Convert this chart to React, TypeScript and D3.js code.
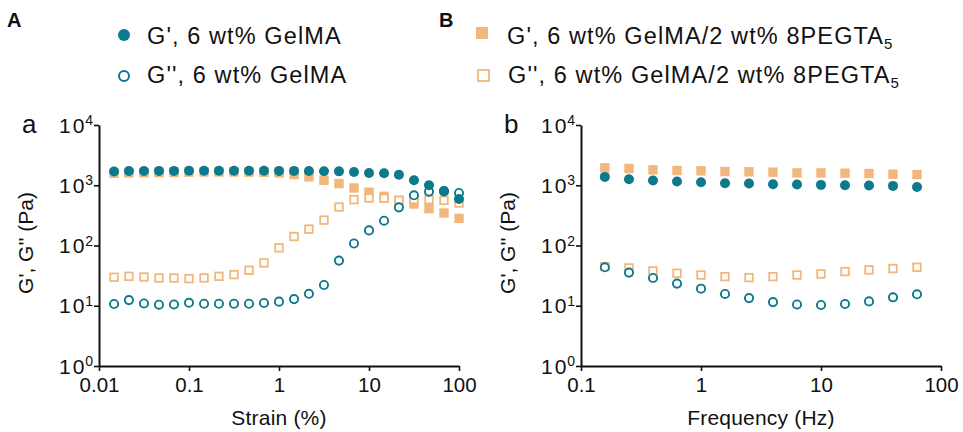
import React from "react";
import * as d3 from "d3";

const TEAL = "#0c7a8c";
const ORANGE = "#f2b77a";

// panel a: strain sweep
const strain = [0.0147, 0.0215, 0.0316, 0.0464, 0.0681, 0.1, 0.147, 0.215, 0.316, 0.464, 0.681, 1, 1.47, 2.15, 3.16, 4.64, 6.81, 10, 14.7, 21.5, 31.6, 46.4, 68.1, 100];
const aGpGel = [1690, 1720, 1720, 1730, 1730, 1740, 1740, 1740, 1740, 1740, 1740, 1730, 1730, 1720, 1710, 1700, 1660, 1600, 1580, 1490, 1210, 1000, 800, 590];
const aGppGel = [10.7, 12.4, 10.9, 10.4, 10.5, 11.2, 10.8, 10.8, 10.8, 10.8, 11.1, 11.7, 12.9, 15.8, 22.1, 56.2, 108, 178, 258, 430, 681, 784, 790, 745];
const aGpPeg = [1580, 1600, 1610, 1620, 1630, 1650, 1660, 1660, 1660, 1650, 1640, 1600, 1506, 1377, 1211, 1066, 903, 765, 656, 562, 489, 408, 346, 282];
const aGppPeg = [29.7, 30.8, 30, 28.9, 28.9, 28.2, 28.9, 30.8, 32.9, 38.8, 51.4, 91.4, 141, 187, 264, 435, 577, 615, 607, 562, 580, 577, 562, 508];

// panel b: frequency sweep
const freq = [0.158, 0.251, 0.398, 0.631, 1, 1.585, 2.512, 3.981, 6.31, 10, 15.85, 25.12, 39.81, 63.1];
const bGpGel = [1377, 1259, 1196, 1151, 1122, 1080, 1066, 1040, 1027, 1014, 1000, 988, 976, 937];
const bGppGel = [43.5, 35.5, 28.9, 23.3, 19.2, 15.7, 13.4, 11.5, 10.5, 10.3, 10.7, 11.8, 13.8, 15.5];
const bGpPeg = [1945, 1896, 1801, 1755, 1733, 1690, 1670, 1648, 1605, 1605, 1585, 1565, 1525, 1505];
const bGppPeg = [44.7, 42.4, 37.8, 34.6, 32.4, 30.4, 29.3, 30.4, 32.4, 33.7, 36.9, 39.3, 41.4, 43.5];

const yTicks = [1, 10, 100, 1000, 10000];
const yExp = ["0", "1", "2", "3", "4"];
const aXTicks = [0.01, 0.1, 1, 10, 100];
const aXLabels = ["0.01", "0.1", "1", "10", "100"];
const bXTicks = [0.1, 1, 10, 100];
const bXLabels = ["0.1", "1", "10", "100"];

const FONT = "Arial, 'Liberation Sans', Helvetica, sans-serif";

type Panel = {
  left: number;
  domain: [number, number];
  xs: number[];
  ticks: number[];
  labels: string[];
  title: string;
  letter: string;
  gpGel: number[];
  gppGel: number[];
  gpPeg: number[];
  gppPeg: number[];
};

const App = () => {
  const ref = React.useRef<SVGSVGElement>(null);

  React.useEffect(() => {
    const svg = d3.select(ref.current);
    svg.selectAll("*").remove();

    const top = 125, bottom = 366;
    const y = d3.scaleLog().domain([1, 10000]).range([bottom, top]);

    const panels: Panel[] = [
      { left: 99, domain: [0.01, 100], xs: strain, ticks: aXTicks, labels: aXLabels, title: "Strain (%)", letter: "a",
        gpGel: aGpGel, gppGel: aGppGel, gpPeg: aGpPeg, gppPeg: aGppPeg },
      { left: 581, domain: [0.1, 100], xs: freq, ticks: bXTicks, labels: bXLabels, title: "Frequency (Hz)", letter: "b",
        gpGel: bGpGel, gppGel: bGppGel, gpPeg: bGpPeg, gppPeg: bGppPeg },
    ];

    panels.forEach((p) => {
      const x = d3.scaleLog().domain(p.domain).range([p.left, p.left + 360]);
      const g = svg.append("g");

      // axes
      const xa = g.append("g").attr("transform", `translate(0,${bottom})`)
        .call(d3.axisBottom(x).tickValues(p.ticks).tickSize(5).tickSizeOuter(0).tickPadding(6)
          .tickFormat((d, i) => p.labels[i]));
      xa.selectAll("text").attr("font-size", 20.5).attr("font-family", FONT).attr("fill", "#111");

      const ya = g.append("g").attr("transform", `translate(${p.left},0)`)
        .call(d3.axisLeft(y).tickValues(yTicks).tickSize(5).tickSizeOuter(0).tickFormat(() => ""));
      [xa, ya].forEach((a) => {
        a.select(".domain").attr("stroke", "#111").attr("stroke-width", 2);
        a.selectAll(".tick line").attr("stroke", "#111").attr("stroke-width", 1.6);
      });

      // y tick labels 10^n
      yTicks.forEach((t, i) => {
        const tx = g.append("text").attr("x", p.left - 40).attr("y", y(t) + 7.5)
          .attr("font-family", FONT).attr("fill", "#111");
        tx.append("tspan").attr("font-size", 21).attr("letter-spacing", 2).text("10");
        tx.append("tspan").attr("font-size", 14).attr("dx", -1).attr("dy", -7.5).text(yExp[i]);
      });

      // titles
      g.append("text").attr("x", p.left + 180).attr("y", 425).attr("text-anchor", "middle")
        .attr("font-family", FONT).attr("font-size", 21).attr("letter-spacing", 0.2).attr("fill", "#111").text(p.title);
      g.append("text").attr("transform", `translate(${p.left - 66},243) rotate(-90)`).attr("text-anchor", "middle")
        .attr("font-family", FONT).attr("font-size", 21).attr("fill", "#111").text("G', G'' (Pa)");
      g.append("text").attr("x", p.left - 77).attr("y", 133)
        .attr("font-family", FONT).attr("font-size", 26).attr("fill", "#111").text(p.letter);

      const s = 9.4;
      // G' GelMA/PEGTA filled squares
      g.append("g").selectAll("rect").data(p.gpPeg).join("rect")
        .attr("x", (d, i) => x(p.xs[i]) - s / 2).attr("y", (d) => y(d) - s / 2)
        .attr("width", s).attr("height", s).attr("fill", ORANGE);
      // G'' GelMA/PEGTA open squares
      g.append("g").selectAll("rect").data(p.gppPeg).join("rect")
        .attr("x", (d, i) => x(p.xs[i]) - s / 2 + 0.9).attr("y", (d) => y(d) - s / 2 + 0.9)
        .attr("width", s - 1.8).attr("height", s - 1.8).attr("fill", "white")
        .attr("stroke", ORANGE).attr("stroke-width", 1.8);
      // G'' GelMA open circles
      g.append("g").selectAll("circle").data(p.gppGel).join("circle")
        .attr("cx", (d, i) => x(p.xs[i])).attr("cy", (d) => y(d)).attr("r", 4.1)
        .attr("fill", "white").attr("stroke", TEAL).attr("stroke-width", 1.9);
      // G' GelMA filled circles
      g.append("g").selectAll("circle").data(p.gpGel).join("circle")
        .attr("cx", (d, i) => x(p.xs[i])).attr("cy", (d) => y(d)).attr("r", 5)
        .attr("fill", TEAL);
    });

    // panel letters
    svg.append("text").attr("x", 7).attr("y", 27).attr("font-family", FONT).attr("font-weight", "bold")
      .attr("font-size", 20).attr("fill", "#111").text("A");
    svg.append("text").attr("x", 439).attr("y", 27).attr("font-family", FONT).attr("font-weight", "bold")
      .attr("font-size", 20).attr("fill", "#111").text("B");

    // legends
    const leg = svg.append("g").attr("font-family", FONT).attr("font-size", 23.5)
      .attr("letter-spacing", 1.1).attr("fill", "#111");
    leg.append("circle").attr("cx", 124).attr("cy", 35).attr("r", 6).attr("fill", TEAL);
    leg.append("text").attr("x", 147).attr("y", 44).text("G', 6 wt% GelMA");
    leg.append("circle").attr("cx", 124).attr("cy", 76).attr("r", 5).attr("fill", "none")
      .attr("stroke", TEAL).attr("stroke-width", 2);
    leg.append("text").attr("x", 147).attr("y", 83).text("G'', 6 wt% GelMA");

    leg.append("rect").attr("x", 476).attr("y", 27).attr("width", 12).attr("height", 12).attr("fill", ORANGE);
    const t1 = leg.append("text").attr("x", 507).attr("y", 44);
    t1.append("tspan").text("G', 6 wt% GelMA/2 wt% 8PEGTA");
    t1.append("tspan").attr("font-size", 15).attr("dy", 5).text("5");
    leg.append("rect").attr("x", 478).attr("y", 70).attr("width", 11).attr("height", 11).attr("fill", "none")
      .attr("stroke", ORANGE).attr("stroke-width", 1.8);
    const t2 = leg.append("text").attr("x", 508).attr("y", 83);
    t2.append("tspan").text("G'', 6 wt% GelMA/2 wt% 8PEGTA");
    t2.append("tspan").attr("font-size", 15).attr("dy", 5).text("5");
  }, []);

  return (
    <svg ref={ref} width={963} height={432}
      style={{ position: "absolute", left: 0, top: 0, background: "white" }} />
  );
};

export default App;
